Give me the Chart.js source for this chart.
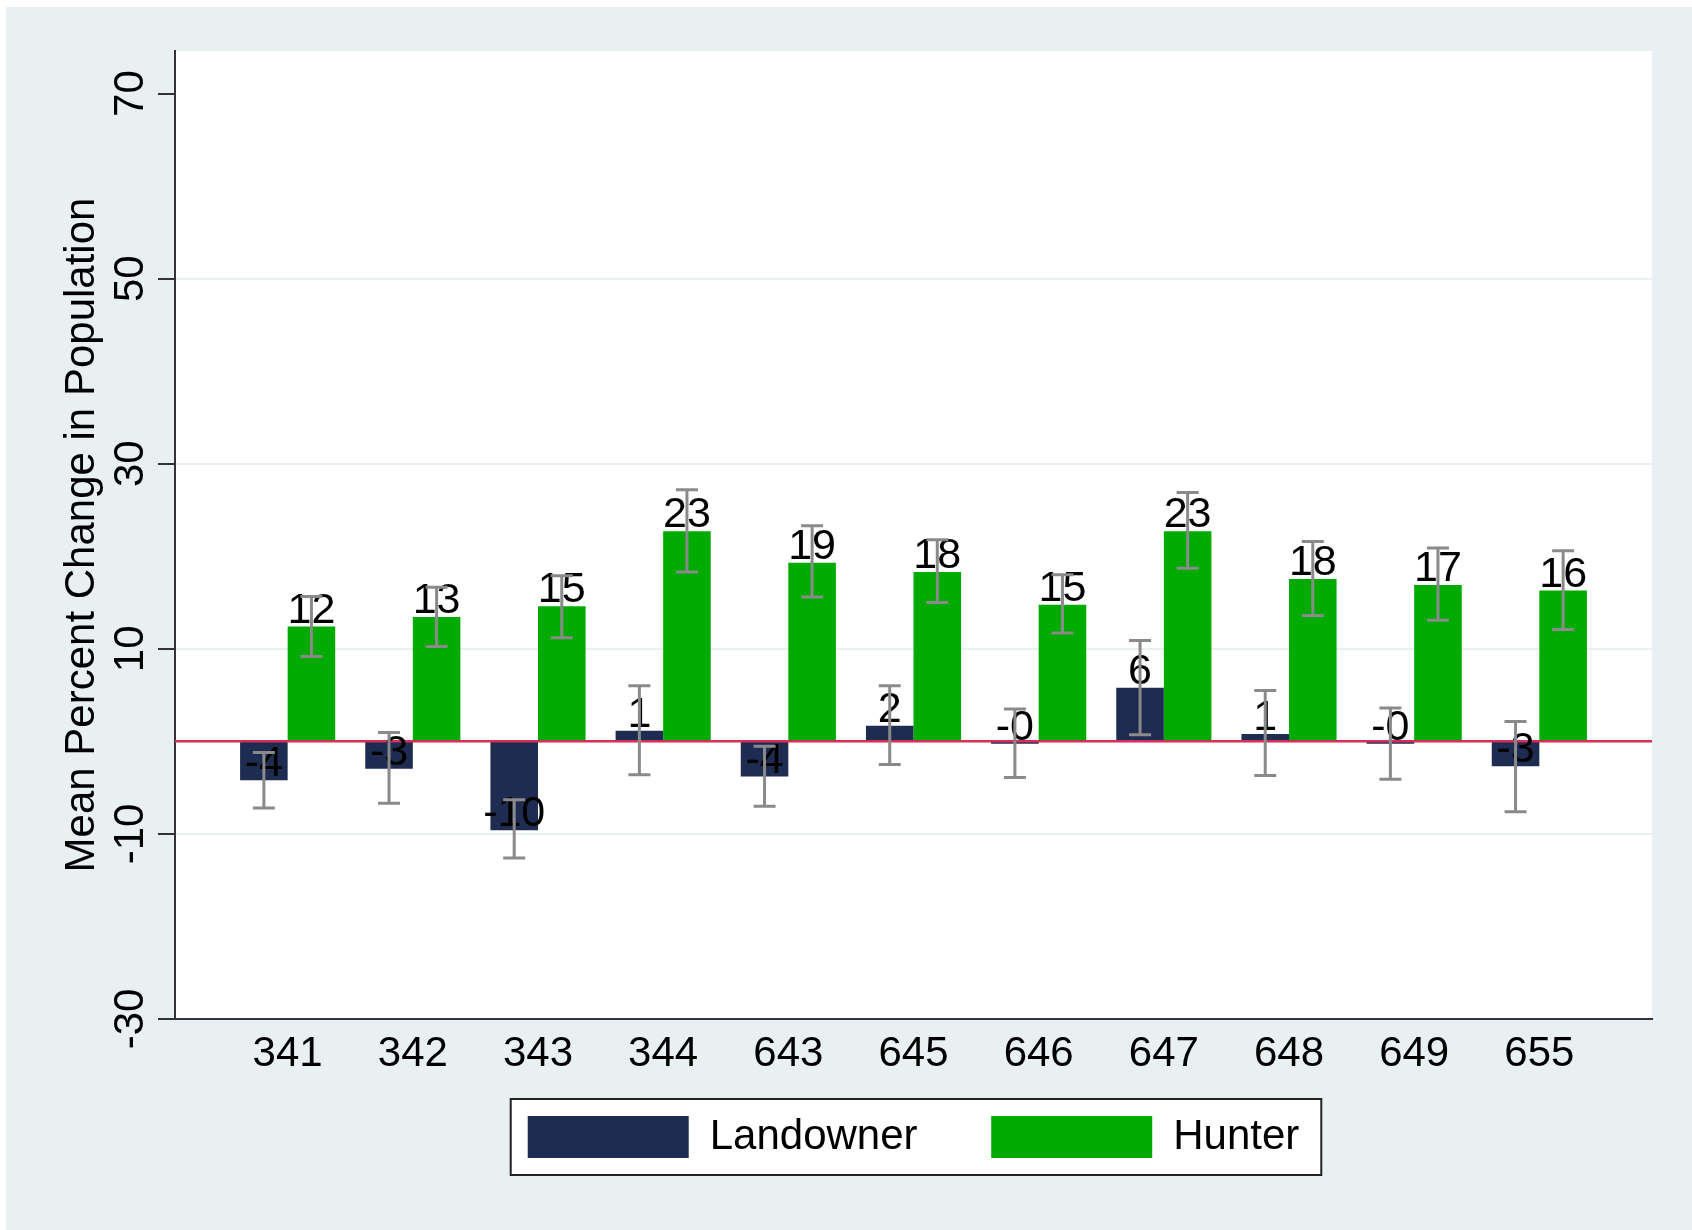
<!DOCTYPE html>
<html>
<head>
<meta charset="utf-8">
<script src="https://cdn.jsdelivr.net/npm/chart.js@4.4.1/dist/chart.umd.min.js"></script>
<style>
    html, body { margin: 0; padding: 0; background: #fff; }
    #wrap { width: 1692px; height: 1230px; }
</style>
</head>
<body>
<div id="wrap"><canvas id="mainChart" width="1692" height="1230"></canvas></div>
<script>
// Group labels (x axis)
const categories = ['341', '342', '343', '344', '643', '645', '646', '647', '648', '649', '655'];

// Mean percent change, with confidence interval ends
const landowner   = [-4.2, -2.95, -9.6, 1.15, -3.8, 1.7, -0.25, 5.8, 0.8, -0.25, -2.7];
const landownerHi = [-1.2, 0.97, -6.3, 6.0, -0.54, 6.0, 3.5, 10.9, 5.5, 3.6, 2.16];
const landownerLo = [-7.2, -6.7, -12.6, -3.6, -7.0, -2.5, -3.9, 0.72, -3.7, -4.1, -7.6];

const hunter   = [12.4, 13.45, 14.6, 22.7, 19.3, 18.3, 14.75, 22.7, 17.55, 16.9, 16.3];
const hunterHi = [15.65, 16.65, 17.9, 27.2, 23.3, 21.8, 18.0, 26.9, 21.6, 20.9, 20.6];
const hunterLo = [9.17, 10.25, 11.2, 18.3, 15.6, 15.0, 11.7, 18.7, 13.6, 13.1, 12.1];

const yTicks = [-30, -10, 10, 30, 50, 70];

const FONT = '"Liberation Sans", Arial, sans-serif';
Chart.defaults.font.family = FONT;
Chart.defaults.color = '#000';

const toPoints = (vals) => vals.map((v, i) => ({ x: i, y: v }));

// page background, plot region and legend frame
const backdrop = {
    id: 'backdrop',
    beforeDraw(chart) {
        const { ctx, chartArea: a } = chart;
        ctx.save();
        ctx.fillStyle = '#fff';
        ctx.fillRect(0, 0, chart.width, chart.height);
        ctx.fillStyle = '#e8f0f2';
        ctx.fillRect(6, 7, chart.width - 6, chart.height - 7);
        ctx.fillStyle = '#fff';
        ctx.fillRect(a.left, a.top, a.right - a.left, a.bottom - a.top);

        const hb = chart.legend && chart.legend.legendHitBoxes;
        if (hb && hb.length) {
            const first = hb[0], last = hb[hb.length - 1];
            const l = first.left - 17, t = first.top - 17;
            const r = last.left + last.width + 22, b = first.top + first.height + 17;
            ctx.fillStyle = '#fff';
            ctx.fillRect(l, t, r - l, b - t);
            ctx.strokeStyle = '#222';
            ctx.lineWidth = 2;
            ctx.strokeRect(l, t, r - l, b - t);
        }
        ctx.restore();
    }
};

// zero line, bar values and error bars
const extras = {
    id: 'extras',
    afterDatasetsDraw(chart) {
        const { ctx, chartArea: a } = chart;
        const y = chart.scales.y;
        ctx.save();

        const y0 = y.getPixelForValue(0);
        ctx.strokeStyle = '#d62f57';
        ctx.lineWidth = 2.5;
        ctx.beginPath();
        ctx.moveTo(a.left, y0);
        ctx.lineTo(a.right, y0);
        ctx.stroke();

        ctx.font = '43px ' + FONT;
        ctx.fillStyle = '#000';
        ctx.textAlign = 'center';
        ctx.textBaseline = 'alphabetic';
        chart.data.datasets.forEach((ds, di) => {
            chart.getDatasetMeta(di).data.forEach((bar, i) => {
                const v = ds.data[i].y;
                ctx.fillText(v.toFixed(0), bar.x, y.getPixelForValue(v) - 4);
            });
        });

        ctx.strokeStyle = '#8a8a8a';
        ctx.lineWidth = 3;
        chart.data.datasets.forEach((ds, di) => {
            chart.getDatasetMeta(di).data.forEach((bar, i) => {
                const top = y.getPixelForValue(ds.hi[i]);
                const bot = y.getPixelForValue(ds.lo[i]);
                ctx.beginPath();
                ctx.moveTo(bar.x, top);
                ctx.lineTo(bar.x, bot);
                ctx.moveTo(bar.x - 11, top);
                ctx.lineTo(bar.x + 11, top);
                ctx.moveTo(bar.x - 11, bot);
                ctx.lineTo(bar.x + 11, bot);
                ctx.stroke();
            });
        });
        ctx.restore();
    },
    afterDraw(chart) {
        // vertical y tick labels
        const { ctx } = chart;
        const y = chart.scales.y;
        ctx.save();
        ctx.font = '42px ' + FONT;
        ctx.fillStyle = '#000';
        ctx.textAlign = 'center';
        ctx.textBaseline = 'alphabetic';
        y.ticks.forEach(t => {
            ctx.save();
            ctx.translate(143, y.getPixelForValue(t.value));
            ctx.rotate(-Math.PI / 2);
            ctx.fillText(String(t.value), 0, 0);
            ctx.restore();
        });
        ctx.restore();
    }
};

new Chart(document.getElementById('mainChart').getContext('2d'), {
    type: 'bar',
    data: {
        datasets: [{
            label: 'Landowner',
            data: toPoints(landowner),
            hi: landownerHi,
            lo: landownerLo,
            backgroundColor: '#1f2c52',
            borderColor: '#1f2c52',
            borderWidth: 0
        }, {
            label: 'Hunter',
            data: toPoints(hunter),
            hi: hunterHi,
            lo: hunterLo,
            backgroundColor: '#00ab00',
            borderColor: '#00ab00',
            borderWidth: 0
        }]
    },
    options: {
        responsive: false,
        animation: false,
        devicePixelRatio: 1,
        categoryPercentage: 0.76,
        barPercentage: 1.0,
        layout: { padding: { left: 0, top: 51, right: 40, bottom: 62 } },
        plugins: {
            legend: {
                position: 'bottom',
                fullSize: false,
                labels: {
                    boxWidth: 161,
                    boxHeight: 42,
                    padding: 27,
                    color: '#000',
                    font: { size: 42 },
                    // widen the gap after the first entry, as in the original key
                    generateLabels: (chart) => {
                        const items = Chart.defaults.plugins.legend.labels.generateLabels(chart);
                        items.forEach((it, i) => {
                            if (i < items.length - 1) it.text = it.text + '    ';
                        });
                        return items;
                    }
                }
            },
            tooltip: { enabled: false }
        },
        scales: {
            x: {
                type: 'linear',
                min: -0.9,
                max: 10.9,
                offset: false,
                afterBuildTicks: (s) => { s.ticks = categories.map((c, i) => ({ value: i })); },
                afterFit: (s) => { s.height = 70; },
                grid: { display: false, drawTicks: false, offset: false },
                border: { display: true, color: '#333', width: 2 },
                ticks: {
                    autoSkip: false,
                    maxRotation: 0,
                    padding: 12,
                    color: '#000',
                    font: { size: 42, lineHeight: 1.1 },
                    callback: (v) => categories[v]
                }
            },
            y: {
                type: 'linear',
                min: -30,
                max: 74.6,
                afterBuildTicks: (s) => { s.ticks = yTicks.map(v => ({ value: v })); },
                afterFit: (s) => { s.width = 175; },
                grid: {
                    color: (c) => (c.tick && (c.tick.value === 70 || c.tick.value === -30)) ? 'rgba(0,0,0,0)' : '#e8f0f2',
                    lineWidth: 2,
                    drawTicks: true,
                    tickLength: 17,
                    tickColor: '#333',
                    tickWidth: 2
                },
                border: { display: true, color: '#333', width: 2 },
                ticks: { display: false },
                title: {
                    display: true,
                    text: 'Mean Percent Change in Population',
                    color: '#000',
                    font: { size: 42, lineHeight: 1 },
                    padding: { top: 61, bottom: 0 }
                }
            }
        }
    },
    plugins: [backdrop, extras]
});
</script>
</body>
</html>
